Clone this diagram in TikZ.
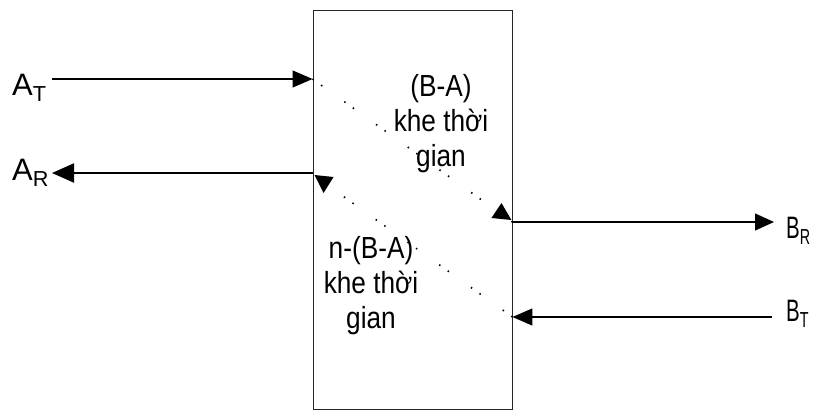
\documentclass[tikz,border=0pt]{standalone}
\usepackage{fontspec}
\setmainfont{Liberation Sans}
\newfontfamily\slotfont[FakeStretch=0.86]{Liberation Sans}
\newfontfamily\narrowfont[FakeStretch=0.66]{Liberation Sans}
\usetikzlibrary{arrows.meta}

\begin{document}
\begin{tikzpicture}[
    x=1pt, y=-1pt,
    frame/.style={draw=black!85, line width=0.9pt, minimum width=199pt, minimum height=399pt, inner sep=0pt},
    wire/.style={line width=1.2pt},
    slotpath/.style={line width=1.6pt, dash pattern=on 1.5pt off 9pt on 1.5pt off 27pt},
    slottext/.style={font=\slotfont\fontsize{30.5}{35}\selectfont, align=center},
    lbl/.style={font=\fontsize{31}{32}\selectfont, anchor=base west, inner sep=0pt},
    blbl/.style={lbl, font=\narrowfont\fontsize{31}{32}\selectfont}
]
    \useasboundingbox (0,0) rectangle (816,410);

    % Time-slot block between side A and side B
    \node[frame] (box) at (412.5,209.5) {};

    % Free ends of the lines
    \coordinate (aT) at (52,79);
    \coordinate (aR) at (52,173);
    \coordinate (bR) at (774,222);
    \coordinate (bT) at (772,317);
    \coordinate (turn) at (326,184);

    % Side labels
    \node[lbl] (laT) at (12,95) {A\textsubscript{T}};
    \node[lbl] (laR) at (12,180) {A\textsubscript{R}};
    \node[blbl] (lbR) at (786,238) {B\textsubscript{R}};
    \node[blbl] (lbT) at (786,321) {B\textsubscript{T}};

    % Text inside the block
    \node[slottext] (upper) at (441,124) {(B-A)\\khe thời\\gian};
    \node[slottext] (lower) at (371,286) {n-(B-A)\\khe thời\\gian};

    % Lines into and out of the block
    \draw[wire, -{Triangle[length=20pt, width=17pt]}] (aT) -- (aT -| box.west);
    \draw[wire, line width=2pt, {Triangle[length=22pt, width=19pt]}-] (aR) -- (aR -| box.west);
    \draw[wire, -{Triangle[length=19pt, width=17pt]}] (bR -| box.east) -- (bR);
    \draw[wire, line width=1.5pt, {Triangle[length=20pt, width=17pt]}-] (bT -| box.east) -- (bT);

    % Paths through the block
    \draw[slotpath] (aT -| box.west) -- (bR -| box.east);
    \draw[slotpath] (bT -| box.east) -- (turn);

    % Heads at the ends of the paths
    \fill (bR -| box.east) ++(-11,-19) -- ++(-10,15) -- ++(20,2) -- cycle;
    \fill (aR -| box.west) ++(2,2) -- ++(19,2) -- ++(-10,16) -- cycle;
\end{tikzpicture}
\end{document}
